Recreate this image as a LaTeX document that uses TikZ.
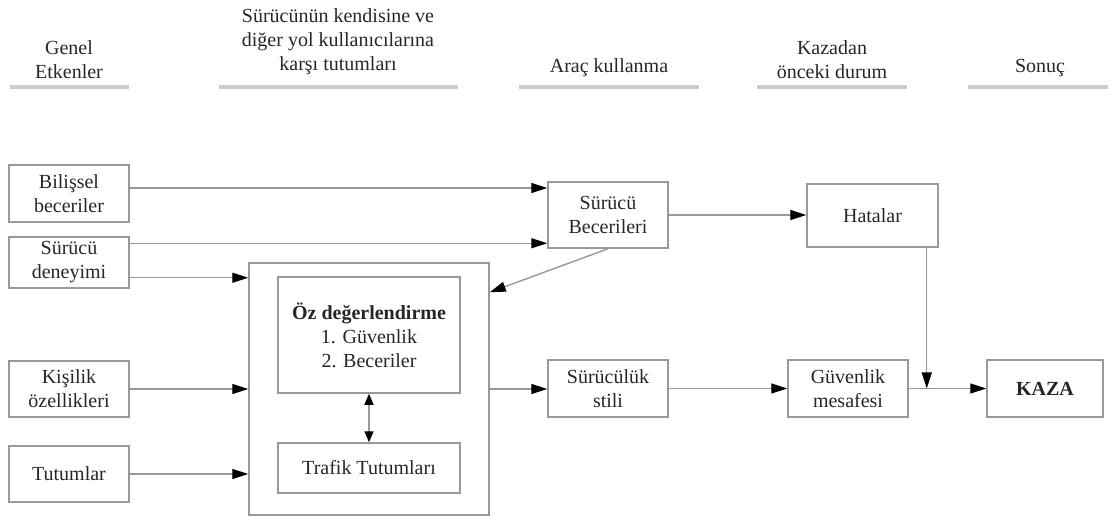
\documentclass[tikz,border=0pt]{standalone}
\usepackage{fontspec}
\setmainfont{Liberation Serif}
\usetikzlibrary{arrows.meta, calc}

\begin{document}
\begin{tikzpicture}[x=.5pt, y=-.5pt, font=\fontsize{10}{12}\selectfont,
  kutu/.style={draw=black!40, line width=.75pt, align=center, inner sep=0pt, text=black!85},
  ok/.style={draw=black!40, line width=.7pt, -{Triangle[length=8pt,width=5pt,black]}},
  ikiok/.style={draw=black!40, line width=.7pt, {Triangle[length=5.5pt,width=4.5pt,black]}-{Triangle[length=5.5pt,width=4.5pt,black]}},
  baslik/.style={align=center, text=black!85},
  cizgi/.style={draw=black!20, line width=1.6pt}]
\useasboundingbox (0,0) rectangle (1111,517);

\node[baslik] (genel) at (69,60) {Genel\\Etkenler};
\node[baslik] (surucu) at (338,42) {Sürücünün kendisine ve\\diğer yol kullanıcılarına\\karşı tutumları};
\node[baslik] (arac) at (609,68) {Araç kullanma};
\node[baslik] (kazadan) at (832,60) {Kazadan\\önceki durum};
\node[baslik] (sonuc) at (1040,68) {Sonuç};
\draw[cizgi] (10,87) -- (129,87);
\draw[cizgi] (219,87) -- (458,87);
\draw[cizgi] (519,87) -- (699,87);
\draw[cizgi] (757,87) -- (907,87);
\draw[cizgi] (968,87) -- (1108,87);

\node[kutu, minimum width=60pt, minimum height=28.5pt] (bilissel) at (69,193.5) {Bilişsel\\beceriler};
\node[kutu, minimum width=60pt, minimum height=25.5pt] (deneyim) at (69,262.5) {Sürücü\\deneyimi};
\node[kutu, minimum width=60pt, minimum height=28pt] (kisilik) at (69,389) {Kişilik\\özellikleri};
\node[kutu, minimum width=60pt, minimum height=28pt] (tutum) at (69,474) {Tutumlar};
\node[kutu, minimum width=120pt, minimum height=126pt] (degerlendirme) at (369,389) {};
\node[kutu, minimum width=91pt, minimum height=58pt] (oz) at (369,335) {\textbf{Öz değerlendirme}\\1. Güvenlik\\2. Beceriler};
\node[kutu, minimum width=91pt, minimum height=25pt] (trafik) at (369,468) {Trafik Tutumları};
\node[kutu, minimum width=60pt, minimum height=33pt] (beceri) at (608,215) {Sürücü\\Becerileri};
\node[kutu, minimum width=65.5pt, minimum height=31.5pt] (hata) at (872.5,215.5) {Hatalar};
\node[kutu, minimum width=60pt, minimum height=28.5pt] (stil) at (608,388.5) {Sürücülük\\stili};
\node[kutu, minimum width=60pt, minimum height=28.5pt] (mesafe) at (848,388.5) {Güvenlik\\mesafesi};
\node[kutu, minimum width=58pt, minimum height=28.5pt] (kaza) at (1045,388.5) {\textbf{KAZA}};

\coordinate (b1) at ($(bilissel.east)+(0,-5.5)$);
\coordinate (d1) at ($(deneyim.north east)+(0,7)$);
\coordinate (d2) at ($(deneyim.south east)+(0,-11)$);
\coordinate (h1) at ($(hata.south east)+(-12,0)$);
\draw[ok] (b1) -- (b1 -| beceri.west);
\draw[ok] (d1) -- (d1 -| beceri.west);
\draw[ok] (d2) -- (d2 -| degerlendirme.west);
\draw[ok] (kisilik) -- (degerlendirme);
\draw[ok] (tutum.east) -- (tutum.east -| degerlendirme.west);
\draw[ok] (beceri.east) -- (beceri.east -| hata.west);
\draw[ok] (beceri.south) -- ($(degerlendirme.north east)+(0,30)$);
\draw[ikiok] (oz) -- (trafik);
\draw[ok] (degerlendirme.east) -- (degerlendirme.east -| stil.west);
\draw[ok] (stil) -- (mesafe);
\draw[ok] (mesafe) -- (kaza);
\draw[ok] (h1) -- (h1 |- mesafe.east);
\end{tikzpicture}
\end{document}
